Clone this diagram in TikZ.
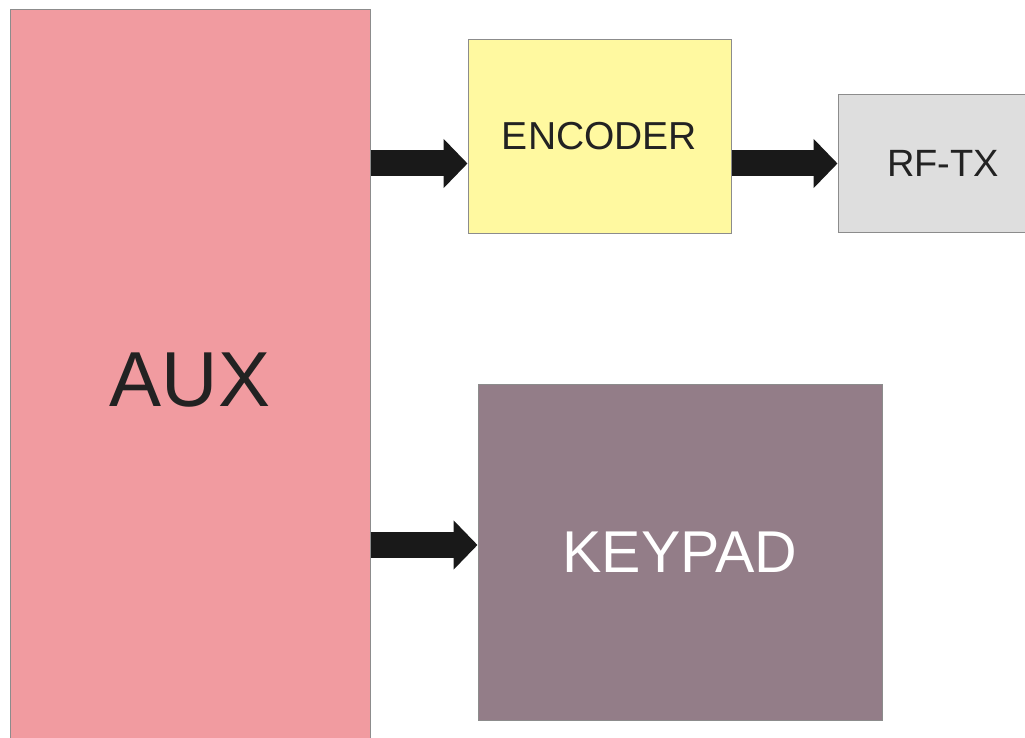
\documentclass[tikz,border=0pt]{standalone}
\usepackage{fontspec}
\setmainfont{Liberation Sans}
\usetikzlibrary{arrows.meta}

\definecolor{auxpink}{HTML}{F19BA0}
\definecolor{encyellow}{HTML}{FFF9A0}
\definecolor{rfgray}{HTML}{DEDEDE}
\definecolor{keymauve}{HTML}{937D88}
\definecolor{txtdark}{HTML}{222222}

\tikzset{
  block/.style={draw=black!45, line width=1pt, inner sep=0pt, text=txtdark},
  fat/.style={line width=26pt, -{Triangle[width=48pt,length=24pt]}, black!90}
}

\begin{document}
\begin{tikzpicture}[x=1pt, y=-1pt]
    \useasboundingbox (0,0) rectangle (1025,738);

    % Blocks
    \node[block, fill=auxpink, minimum width=360pt, minimum height=740pt,
          font=\fontsize{78}{78}\selectfont] (aux) at (190,380) {AUX};
    \node[block, fill=encyellow, minimum width=263pt, minimum height=194pt,
          font=\fontsize{39}{39}\selectfont] (enc) at (599.5,136.5) {ENCODER};
    \node[block, fill=rfgray, minimum width=210pt, minimum height=137pt,
          font=\fontsize{38}{38}\selectfont] (rftx) at (943,163.5) {RF-TX};
    \node[block, fill=keymauve, minimum width=404pt, minimum height=336pt,
          text=white, font=\fontsize{59}{59}\selectfont] (keypad) at (680,552) {KEYPAD};

    % Arrows
    \draw[fat] (aux.east |- rftx.west) -- (enc.west |- rftx.west);
    \draw[fat] (enc.east |- rftx.west) -- (rftx.west);
    \draw[fat] (aux.east |- 0,545) -- (keypad.west |- 0,545);
\end{tikzpicture}
\end{document}
